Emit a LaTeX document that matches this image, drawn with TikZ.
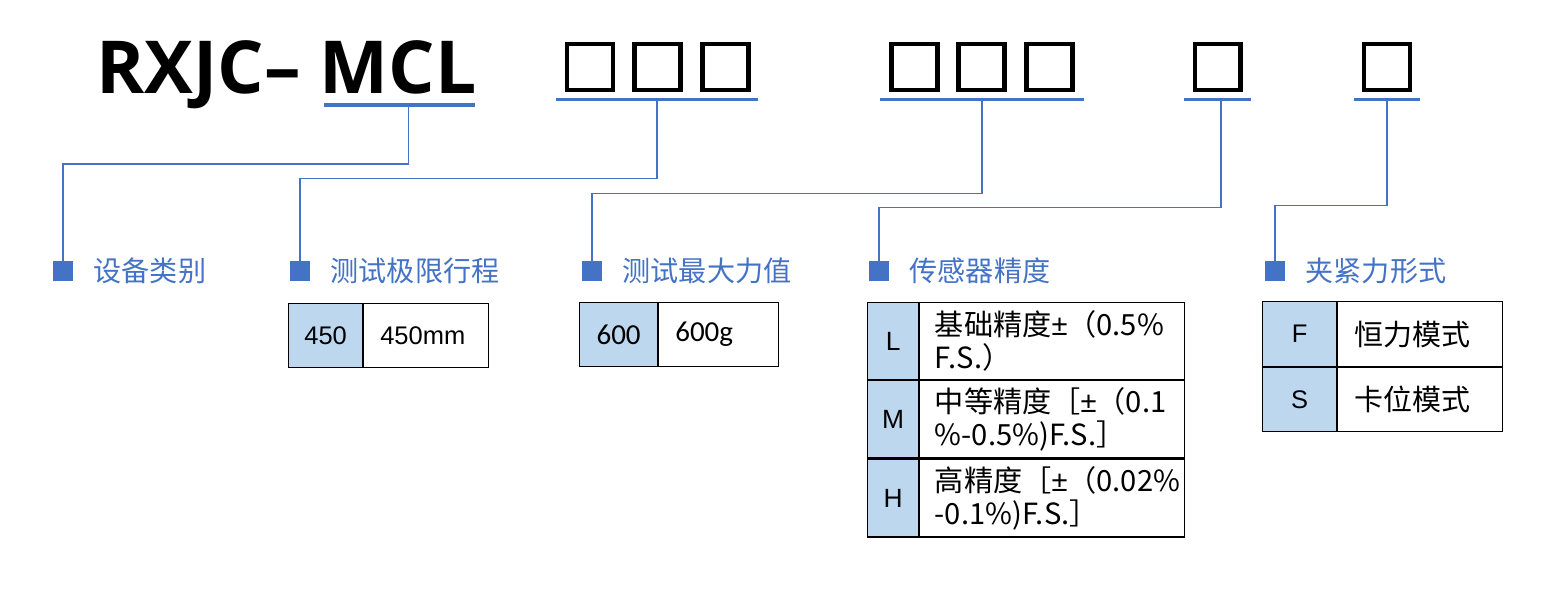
\documentclass[tikz,border=0pt]{standalone}
\usepackage{fontspec}
\setmainfont{Noto Sans CJK SC}
\newfontfamily\titlefont{Open Sans}
\newfontfamily\arialfont{Liberation Sans}
\newfontfamily\calfont{Carlito}
\usetikzlibrary{positioning}
\definecolor{lineblue}{HTML}{4472C4}
\definecolor{keyblue}{HTML}{BDD7EE}
\newcommand{\plmi}{{\arialfont ±}}

\begin{document}
\begin{tikzpicture}[x=0.02cm,y=-0.02cm,
  box/.style={draw=black,line width=2.3pt,minimum size=0.92cm,inner sep=0},
  uline/.style={fill=lineblue,inner sep=0,minimum height=0.065cm},
  conn/.style={draw=lineblue,line width=0.8pt},
  bullet/.style={fill=lineblue,inner sep=0,minimum size=0.4cm},
  lbl/.style={text=lineblue,inner sep=0,font=\fontsize{16}{19}\selectfont},
  keycell/.style={draw=black,fill=keyblue,line width=0.7pt,inner sep=0},
  valcell/.style={draw=black,line width=0.7pt,inner xsep=0.33cm,inner ysep=0,align=left}]
\useasboundingbox (0,0) rectangle (1548,589);

% model code
\node[anchor=base west,inner sep=0,font=\titlefont\bfseries\fontsize{41.6}{42}\selectfont] (title) at (96,93) {RXJC– MCL};
\node[box] (A1) at (590,67) {};
\node[box] (A2) at (657.5,67) {};
\node[box] (A3) at (725.5,67) {};
\node[box] (B1) at (914.5,67) {};
\node[box] (B2) at (981.5,67) {};
\node[box] (B3) at (1049.5,67) {};
\node[box] (C1) at (1217.5,67) {};
\node[box] (D1) at (1387,67) {};

% underlines
\node[uline,minimum width=3.02cm] (u1) at (399.5,105) {};
\node[uline,minimum width=4.04cm] (u2) at (657,99.5) {};
\node[uline,minimum width=4.08cm] (u3) at (982,99.5) {};
\node[uline,minimum width=1.34cm] (u4) at (1217.5,99.5) {};
\node[uline,minimum width=1.32cm] (u5) at (1387,99.5) {};

% headings
\node[bullet] (b1) at (63,271) {};
\node[bullet] (b2) at (300,271) {};
\node[bullet] (b3) at (592,271) {};
\node[bullet] (b4) at (879,271) {};
\node[bullet] (b5) at (1275,271) {};
\node[lbl,right=0.4cm of b1] (l1) {设备类别};
\node[lbl,right=0.4cm of b2] (l2) {测试极限行程};
\node[lbl,right=0.4cm of b3] (l3) {测试最大力值};
\node[lbl,right=0.4cm of b4] (l4) {传感器精度};
\node[lbl,right=0.4cm of b5] (l5) {夹紧力形式};

\draw[conn] ([xshift=0.18cm]u1.south) -- ++(0,57) -| (b1.north);
\draw[conn] (u2.south) -- ++(0,77) -| (b2.north);
\draw[conn] (u3.south) -- ++(0,92) -| (b3.north);
\draw[conn] ([xshift=0.07cm]u4.south) -- ++(0,106) -| (b4.north);
\draw[conn] (u5.south) -- ++(0,104) -| (b5.north);

% stroke
\node[keycell,anchor=north west,minimum width=1.48cm,minimum height=1.28cm,font=\arialfont\fontsize{14.5}{16}\selectfont] (k1) at (288,303) {450};
\node[valcell,right=0cm of k1,minimum height=1.28cm,text width=1.84cm,font=\arialfont\fontsize{14.5}{16}\selectfont] (v1) {450mm};

% force
\node[keycell,anchor=north west,minimum width=1.56cm,minimum height=1.28cm,font=\calfont\fontsize{16.5}{18}\selectfont] (k2) at (579,302) {600};
\node[valcell,right=0cm of k2,minimum height=1.28cm,text width=1.74cm,font=\calfont\fontsize{16.5}{18}\selectfont] (v2) {600g};

% sensor
\node[keycell,anchor=north west,minimum width=1.02cm,minimum height=1.54cm,font=\arialfont\fontsize{15}{16}\selectfont] (k3) at (867,302) {L};
\node[keycell,below=0cm of k3,minimum width=1.02cm,minimum height=1.54cm,font=\arialfont\fontsize{15}{16}\selectfont] (k4) {M};
\node[keycell,below=0cm of k4,minimum width=1.02cm,minimum height=1.56cm,font=\arialfont\fontsize{15}{16}\selectfont] (k5) {H};
\node[valcell,right=0cm of k3,minimum height=1.54cm,text width=4.7cm,inner xsep=0.3cm,font=\fontsize{16.6}{18.7}\selectfont] (v3) {基础精度\plmi（0.5\%\\F.S.）};
\node[valcell,right=0cm of k4,minimum height=1.54cm,text width=4.7cm,inner xsep=0.3cm,font=\fontsize{16.6}{18.7}\selectfont] (v4) {中等精度［\plmi（0.1\\\%-0.5\%)F.S.］};
\node[valcell,right=0cm of k5,minimum height=1.56cm,text width=4.7cm,inner xsep=0.3cm,font=\fontsize{16.6}{18.7}\selectfont] (v5) {高精度［\plmi（0.02\%\\-0.1\%)F.S.］};

% clamp
\node[keycell,anchor=north west,minimum width=1.48cm,minimum height=1.3cm,font=\arialfont\fontsize{14.5}{16}\selectfont] (k6) at (1262,301) {F};
\node[keycell,below=0cm of k6,minimum width=1.48cm,minimum height=1.28cm,font=\arialfont\fontsize{14.5}{16}\selectfont] (k7) {S};
\node[valcell,right=0cm of k6,minimum height=1.3cm,text width=2.64cm,font=\fontsize{16.5}{18}\selectfont] (v6) {恒力模式};
\node[valcell,right=0cm of k7,minimum height=1.28cm,text width=2.64cm,font=\fontsize{16.5}{18}\selectfont] (v7) {卡位模式};
\end{tikzpicture}
\end{document}
